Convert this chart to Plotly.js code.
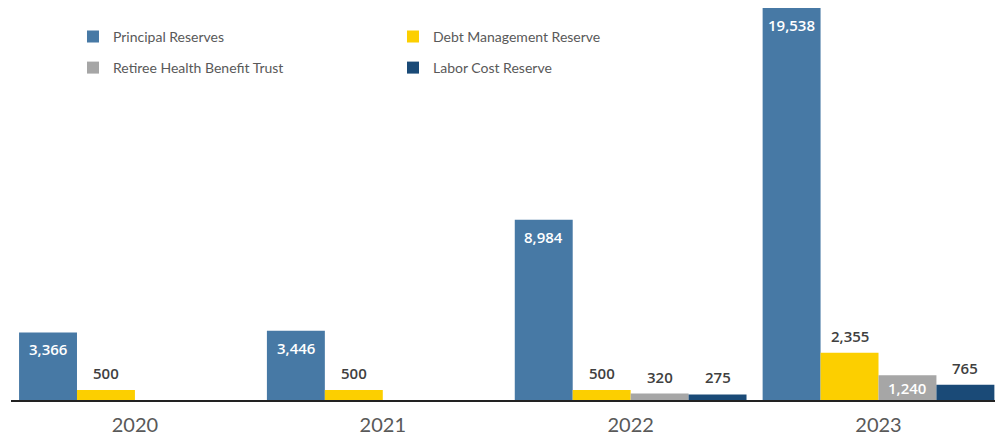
<!DOCTYPE html>
<html><head><meta charset="utf-8">
<script src="https://cdn.plot.ly/plotly-3.0.1.min.js"></script>
<style>html,body{margin:0;padding:0;background:#fff}#chart{width:995px;height:436px}</style>
</head><body><div id="chart"></div>
<script>
const years = ['2020', '2021', '2022', '2023'];
const seriesNames = ['Principal Reserves', 'Debt Management Reserve', 'Retiree Health Benefit Trust', 'Labor Cost Reserve'];
const principal = [3366, 3446, 8984, 19538];
const debtMgmt = [500, 500, 500, 2355];
const retiree = [null, null, 320, 1240];
const laborCost = [null, null, 275, 765];

const seriesValues = [principal, debtMgmt, retiree, laborCost];
// styling
const colors = ['#4779a5', '#fccf00', '#a6a6a6', '#1a4a77'];
const legends = ['legend', 'legend', 'legend2', 'legend2'];
// label placement: 'top' = inside at top, 'mid' = inside centred, otherwise above the bar
const labelPlacement = (i, v) => i === 0 ? 'top' : (i === 2 && v > 1000 ? 'mid' : 'out');
const bargap = 0.065;
const bw = (1 - bargap) / 4;
const fmt = v => v.toLocaleString('en-US');
const labelFont = 'Open Sans, sans-serif';

const traces = seriesValues.map((vals, i) => ({
  type: 'bar', name: seriesNames[i], x: years, y: vals,
  marker: {color: colors[i], line: {width: 0}},
  legend: legends[i], hoverinfo: 'skip'
}));

const annotations = [];
seriesValues.forEach((vals, i) => {
  vals.forEach((v, j) => {
    if (v == null) return;
    const p = labelPlacement(i, v);
    annotations.push({
      x: j + (i - 1.5) * bw, y: p === 'mid' ? v / 2 : v, xref: 'x', yref: 'y',
      text: fmt(v), showarrow: false,
      yanchor: p === 'top' ? 'top' : (p === 'mid' ? 'middle' : 'bottom'),
      yshift: p === 'top' ? -5 : (p === 'mid' ? 0 : 5),
      font: {family: labelFont, size: 15, weight: 600, color: p === 'out' ? '#404040' : '#ffffff'}
    });
  });
});

const legendCommon = {
  orientation: 'h', xanchor: 'left', yanchor: 'middle',
  font: {family: 'Lato, sans-serif', size: 14, color: '#595959'},
  entrywidth: 275, itemwidth: 30, bgcolor: 'rgba(0,0,0,0)', traceorder: 'normal'
};

const layout = {
  width: 995, height: 436,
  margin: {l: 11, r: 0, t: 0, b: 36},
  barmode: 'group', bargap: bargap, bargroupgap: 0,
  paper_bgcolor: '#fff', plot_bgcolor: '#fff',
  showlegend: true,
  legend: Object.assign({}, legendCommon, {x: 0.063, y: 0.908}),
  legend2: Object.assign({}, legendCommon, {x: 0.063, y: 0.83}),
  xaxis: {
    type: 'category', range: [-0.5, 3.47], showline: true, linecolor: '#222', linewidth: 1.5,
    ticks: '', showgrid: false, zeroline: false, ticklabelstandoff: 6,
    tickfont: {family: 'Lato, sans-serif', size: 20, color: '#595959'}
  },
  yaxis: {range: [0, 19940], visible: false, showgrid: false, zeroline: false},
  annotations: annotations
};

Plotly.newPlot('chart', traces, layout, {staticPlot: true, displayModeBar: false});
</script></body></html>
